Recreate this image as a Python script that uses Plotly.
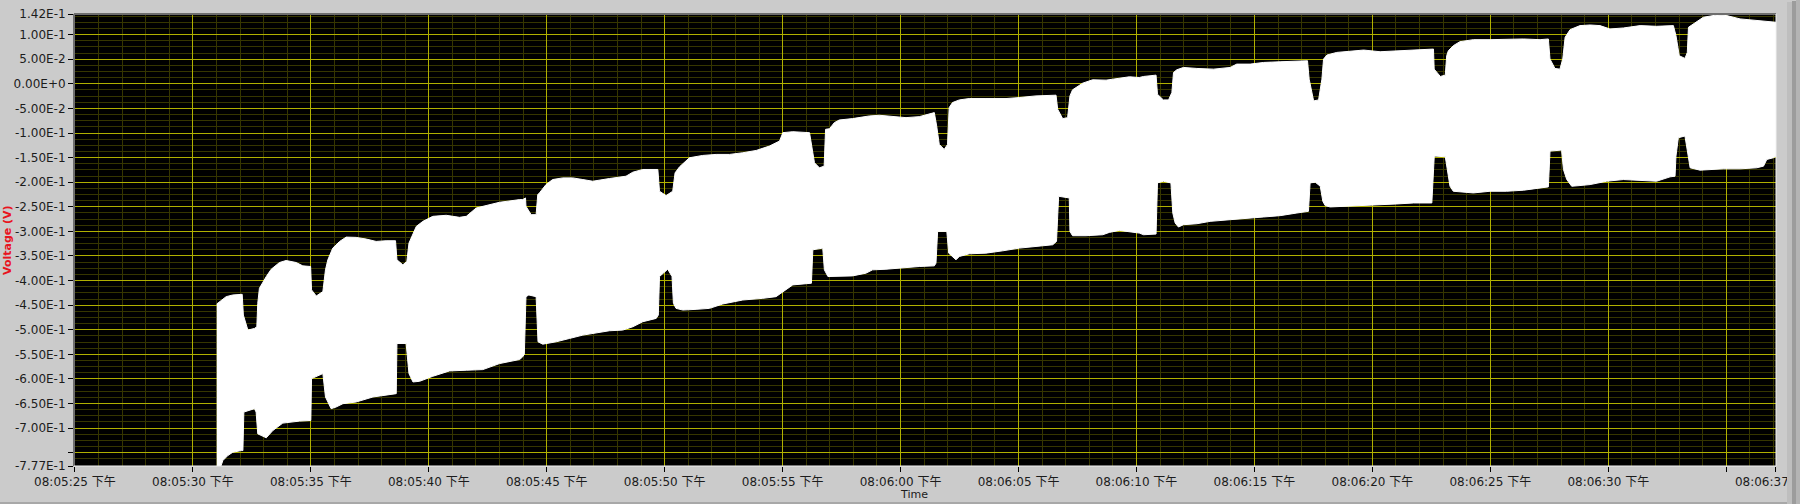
import math
import plotly.graph_objects as go

# Time axis: seconds after 08:05:00 (PM). Voltage in volts.
# Upper (max) envelope of the noisy voltage signal: (seconds, volts)
upper_envelope = [
    (31.01, -0.4476), (31.13, -0.4429), (31.41, -0.4327), (31.69, -0.4293), (32.09, -0.4279),
    (32.14, -0.4701), (32.33, -0.5007), (32.61, -0.4973), (32.71, -0.4939), (32.75, -0.4463),
    (32.82, -0.4156), (33.11, -0.3918), (33.32, -0.3769), (33.67, -0.3633), (33.95, -0.3592),
    (34.38, -0.3633), (34.66, -0.3701), (34.99, -0.3714), (35.03, -0.4190), (35.23, -0.4313),
    (35.51, -0.4224), (35.62, -0.3782), (35.72, -0.3578), (35.93, -0.3340), (36.22, -0.3204),
    (36.50, -0.3116), (36.92, -0.3122), (37.35, -0.3156), (37.77, -0.3204), (38.19, -0.3190),
    (38.59, -0.3190), (38.65, -0.3578), (38.90, -0.3680), (39.07, -0.3612), (39.16, -0.3238),
    (39.47, -0.2898), (39.75, -0.2796), (40.17, -0.2694), (40.74, -0.2673), (41.30, -0.2714),
    (41.59, -0.2694), (42.01, -0.2524), (42.58, -0.2456), (43.00, -0.2408), (43.85, -0.2354),
    (43.98, -0.2354), (44.10, -0.2320), (44.12, -0.2490), (44.34, -0.2660), (44.55, -0.2660),
    (44.62, -0.2252), (44.69, -0.2218), (44.97, -0.2048), (45.25, -0.1946), (45.68, -0.1912),
    (46.10, -0.1912), (46.53, -0.1946), (46.95, -0.1980), (47.66, -0.1925), (48.36, -0.1878),
    (48.65, -0.1796), (49.07, -0.1741), (49.71, -0.1741), (49.78, -0.2184), (50.06, -0.2272),
    (50.34, -0.2184), (50.44, -0.1810), (50.63, -0.1687), (51.05, -0.1503), (51.61, -0.1456),
    (52.18, -0.1435), (52.75, -0.1435), (53.31, -0.1401), (53.88, -0.1354), (54.44, -0.1265),
    (54.87, -0.1163), (55.01, -0.0993), (55.43, -0.0973), (56.14, -0.0993), (56.21, -0.1197),
    (56.35, -0.1605), (56.56, -0.1707), (56.76, -0.1673), (56.82, -0.0925), (56.99, -0.0912),
    (57.19, -0.0789), (57.40, -0.0735), (57.96, -0.0707), (58.67, -0.0653), (59.10, -0.0639),
    (59.66, -0.0667), (60.23, -0.0687), (60.79, -0.0667), (61.43, -0.0585), (61.53, -0.0857),
    (61.64, -0.1231), (61.85, -0.1333), (61.99, -0.1231), (62.06, -0.0483), (62.20, -0.0381),
    (62.49, -0.0327), (62.91, -0.0299), (63.62, -0.0299), (64.47, -0.0299), (65.03, -0.0279),
    (65.74, -0.0245), (66.59, -0.0231), (66.66, -0.0517), (66.87, -0.0707), (67.08, -0.0687),
    (67.18, -0.0245), (67.29, -0.0122), (67.72, 0.0014), (68.14, 0.0082), (68.71, 0.0075),
    (69.27, 0.0109), (69.70, 0.0143), (70.12, 0.0129), (70.30, 0.0150), (70.83, 0.0177),
    (70.89, -0.0211), (71.14, -0.0327), (71.36, -0.0327), (71.50, -0.0177), (71.57, 0.0231),
    (71.71, 0.0286), (71.99, 0.0333), (72.56, 0.0313), (73.27, 0.0299), (73.97, 0.0333),
    (74.25, 0.0401), (74.82, 0.0401), (75.39, 0.0435), (76.09, 0.0449), (76.80, 0.0469),
    (77.25, 0.0469), (77.32, 0.0095), (77.51, -0.0347), (77.72, -0.0327), (77.86, 0.0095),
    (77.93, 0.0503), (78.07, 0.0585), (78.49, 0.0639), (79.63, 0.0687), (80.33, 0.0653),
    (81.04, 0.0673), (81.75, 0.0694), (82.59, 0.0707), (82.62, 0.0299), (82.88, 0.0150),
    (83.09, 0.0177), (83.15, 0.0571), (83.22, 0.0673), (83.43, 0.0776), (83.71, 0.0857),
    (84.28, 0.0898), (84.99, 0.0898), (85.69, 0.0912), (86.40, 0.0912), (87.11, 0.0898),
    (87.46, 0.0912), (87.53, 0.0503), (87.74, 0.0313), (87.95, 0.0299), (88.07, 0.0503),
    (88.17, 0.0946), (88.38, 0.1102), (88.80, 0.1184), (89.23, 0.1197), (89.65, 0.1184),
    (90.07, 0.1116), (90.64, 0.1136), (91.35, 0.1184), (92.05, 0.1170), (92.76, 0.1184),
    (92.87, 0.0980), (93.01, 0.0571), (93.25, 0.0517), (93.35, 0.0639), (93.40, 0.1150),
    (93.61, 0.1218), (94.03, 0.1354), (94.60, 0.1401), (95.02, 0.1388), (95.59, 0.1320),
    (96.29, 0.1286), (97.00, 0.1265), (97.11, 0.1252),
]

# Lower (min) envelope of the noisy voltage signal: (seconds, volts)
lower_envelope = [
    (31.01, -0.785), (31.13, -0.785), (31.27, -0.7660), (31.48, -0.7558), (31.69, -0.7490),
    (32.05, -0.7456), (32.12, -0.7456), (32.16, -0.6673), (32.61, -0.6605), (32.68, -0.6673),
    (32.75, -0.7116), (33.11, -0.7197), (33.39, -0.7048), (33.81, -0.6898), (34.52, -0.6857),
    (35.00, -0.6844), (35.03, -0.5993), (35.51, -0.5891), (35.62, -0.6367), (35.86, -0.6605),
    (36.07, -0.6571), (36.36, -0.6503), (36.92, -0.6469), (37.63, -0.6367), (38.19, -0.6333),
    (38.62, -0.6299), (38.65, -0.5279), (39.04, -0.5279), (39.16, -0.5891), (39.33, -0.6061),
    (39.61, -0.6048), (40.17, -0.5946), (40.88, -0.5837), (41.59, -0.5823), (42.29, -0.5810),
    (43.00, -0.5687), (43.85, -0.5605), (43.98, -0.5551), (44.05, -0.5497), (44.12, -0.4327),
    (44.24, -0.4293), (44.55, -0.4327), (44.63, -0.5245), (44.83, -0.5293), (45.40, -0.5245),
    (45.96, -0.5177), (46.53, -0.5109), (47.09, -0.5061), (47.66, -0.5020), (48.22, -0.5007),
    (48.65, -0.4939), (49.07, -0.4837), (49.64, -0.4769), (49.73, -0.4701), (49.78, -0.3918),
    (50.13, -0.3769), (50.31, -0.3918), (50.37, -0.4463), (50.48, -0.4565), (50.77, -0.4599),
    (51.33, -0.4585), (51.90, -0.4565), (52.46, -0.4476), (53.31, -0.4395), (54.16, -0.4361),
    (54.72, -0.4327), (55.01, -0.4224), (55.43, -0.4088), (56.22, -0.4054), (56.28, -0.3374),
    (56.70, -0.3340), (56.77, -0.3782), (56.92, -0.3918), (57.40, -0.3918), (57.96, -0.3905),
    (58.53, -0.3850), (58.81, -0.3782), (59.38, -0.3769), (60.08, -0.3748), (60.79, -0.3714),
    (61.43, -0.3701), (61.50, -0.3646), (61.57, -0.3000), (61.96, -0.3000), (62.04, -0.3442),
    (62.35, -0.3578), (62.49, -0.3510), (62.91, -0.3456), (63.62, -0.3442), (64.33, -0.3395),
    (65.03, -0.3340), (65.74, -0.3306), (66.45, -0.3272), (66.61, -0.3204), (66.70, -0.2286),
    (67.15, -0.2320), (67.18, -0.3000), (67.29, -0.3088), (67.86, -0.3088), (68.57, -0.3068),
    (68.85, -0.3020), (69.27, -0.2980), (70.12, -0.3034), (70.30, -0.3068), (70.83, -0.3054),
    (70.89, -0.2014), (71.14, -0.1980), (71.46, -0.2014), (71.54, -0.2626), (71.64, -0.2830),
    (71.78, -0.2912), (71.99, -0.2864), (72.56, -0.2844), (73.12, -0.2796), (73.97, -0.2762),
    (74.68, -0.2741), (75.39, -0.2707), (76.09, -0.2680), (76.80, -0.2626), (77.29, -0.2592),
    (77.36, -0.2014), (77.58, -0.2000), (77.79, -0.2082), (77.90, -0.2388), (78.00, -0.2476),
    (78.21, -0.2503), (78.92, -0.2476), (80.33, -0.2456), (81.04, -0.2442), (81.75, -0.2422),
    (82.52, -0.2422), (82.62, -0.1500), (82.66, -0.1469), (83.09, -0.1483), (83.18, -0.1741),
    (83.29, -0.2082), (83.43, -0.2184), (84.28, -0.2218), (84.99, -0.2184), (85.69, -0.2184),
    (86.40, -0.2163), (87.11, -0.2116), (87.46, -0.2095), (87.53, -0.1367), (88.02, -0.1347),
    (88.10, -0.1741), (88.24, -0.1946), (88.45, -0.2082), (88.80, -0.2068), (89.23, -0.2048),
    (89.93, -0.1980), (90.64, -0.1946), (91.35, -0.1966), (92.05, -0.1980), (92.62, -0.1891),
    (92.83, -0.1878), (92.87, -0.1469), (92.97, -0.1095), (93.25, -0.1061), (93.40, -0.1469),
    (93.47, -0.1707), (93.89, -0.1755), (94.17, -0.1741), (94.88, -0.1728), (95.59, -0.1728),
    (96.29, -0.1707), (96.58, -0.1673), (96.72, -0.1537), (97.00, -0.1503), (97.11, -0.1469),
]

x_tick_seconds = [25, 30, 35, 40, 45, 50, 55, 60, 65, 70, 75, 80, 85, 90, 95, 97.1]
x_tick_labels = [
    "08:05:25 下午", "08:05:30 下午", "08:05:35 下午", "08:05:40 下午", "08:05:45 下午",
    "08:05:50 下午", "08:05:55 下午", "08:06:00 下午", "08:06:05 下午", "08:06:10 下午",
    "08:06:15 下午", "08:06:20 下午", "08:06:25 下午", "08:06:30 下午", "", "08:06:37 下午",
]
y_tick_values = [0.142, 0.10, 0.05, 0.0, -0.05, -0.10, -0.15, -0.20, -0.25, -0.30, -0.35,
                 -0.40, -0.45, -0.50, -0.55, -0.60, -0.65, -0.70, -0.75, -0.777]
y_hidden_labels = [-0.75]

X_RANGE = [24.96, 97.11]
Y_RANGE = [-0.777, 0.142]


def lv_format(v):
    if abs(v) < 1e-12:
        return "0.00E+0"
    e = math.floor(math.log10(abs(v)) + 1e-9)
    m = v / 10 ** e
    return f"{m:.2f}E{e:+d}"


y_tick_text = ["" if v in y_hidden_labels else lv_format(v) for v in y_tick_values]

xs = [p[0] for p in upper_envelope] + [p[0] for p in reversed(lower_envelope)]
ys = [p[1] for p in upper_envelope] + [p[1] for p in reversed(lower_envelope)]

MAJOR = "#B0B000"
MINOR = "#363600"
BG = "#CBCBCB"
TXT = "#1c1c1c"

fig = go.Figure()
fig.add_trace(go.Scatter(
    x=xs, y=ys, mode="lines", fill="toself", fillcolor="#FFFFFF",
    line=dict(color="#FFFFFF", width=1), hoverinfo="skip", showlegend=False,
))

font_main = "DejaVu Sans, Noto Sans CJK SC, sans-serif"

fig.update_layout(
    width=1800, height=504,
    margin=dict(l=74, r=24, t=14, b=38, autoexpand=False),
    paper_bgcolor=BG, plot_bgcolor="#000000",
    font=dict(family=font_main, size=12, color=TXT),
    showlegend=False,
)

fig.update_xaxes(
    range=X_RANGE, tickmode="array", tickvals=x_tick_seconds, ticktext=x_tick_labels,
    showgrid=True, gridcolor=MAJOR, gridwidth=1, zeroline=False,
    ticks="outside", ticklen=5, tickcolor="#000000", tickwidth=1,
    tickfont=dict(family="DejaVu Sans, Noto Sans CJK SC", size=12, color=TXT),
    ticklabeloverflow="allow",
    minor=dict(tickmode="linear", tick0=25, dtick=1, showgrid=True, gridcolor=MINOR,
               gridwidth=1, ticks=""),
    showline=False, automargin=False, fixedrange=True,
)
fig.update_yaxes(
    range=Y_RANGE, tickmode="array", tickvals=y_tick_values, ticktext=y_tick_text,
    showgrid=True, gridcolor=MAJOR, gridwidth=1, zeroline=False,
    ticks="outside", ticklen=5, tickcolor="#000000", tickwidth=1,
    tickfont=dict(family="DejaVu Sans", size=12, color=TXT),
    ticklabeloverflow="allow",
    minor=dict(tickmode="linear", tick0=0, dtick=0.0125, showgrid=True, gridcolor=MINOR,
               gridwidth=1, ticks=""),
    showline=False, automargin=False, fixedrange=True,
)

# sunken border of the plot area
fig.add_shape(type="line", xref="paper", yref="paper", x0=0, x1=1, y0=1, y1=1,
              line=dict(color="#6E6E6E", width=2), layer="above")
fig.add_shape(type="line", xref="paper", yref="paper", x0=0, x1=0, y0=0, y1=1,
              line=dict(color="#6E6E6E", width=2), layer="above")
fig.add_shape(type="line", xref="paper", yref="paper", x0=0, x1=1, y0=0, y1=0,
              line=dict(color="#F2F2F2", width=1), layer="above")
fig.add_shape(type="line", xref="paper", yref="paper", x0=1, x1=1, y0=0, y1=1,
              line=dict(color="#F2F2F2", width=1), layer="above")

# window frame at right and bottom
W = 1702.0
H = 452.0
def px_x(p):
    return (p - 74) / W
def px_y(p):
    return (466 - p) / H

fig.add_shape(type="rect", xref="paper", yref="paper", x0=px_x(1787), x1=px_x(1792),
              y0=px_y(504), y1=px_y(2), fillcolor="#BEBEBE", line=dict(width=0), layer="above")
fig.add_shape(type="rect", xref="paper", yref="paper", x0=px_x(1792), x1=px_x(1796),
              y0=px_y(504), y1=px_y(1), fillcolor="#9C9C9C", line=dict(width=0), layer="above")
fig.add_shape(type="rect", xref="paper", yref="paper", x0=px_x(1796), x1=px_x(1800),
              y0=px_y(504), y1=px_y(0), fillcolor="#B4B4B4", line=dict(width=0), layer="above")
fig.add_shape(type="rect", xref="paper", yref="paper", x0=px_x(0), x1=px_x(1787),
              y0=px_y(504), y1=px_y(502), fillcolor="#A8A8A8", line=dict(width=0), layer="above")

fig.add_annotation(text="<b>Voltage (V)</b>", xref="paper", yref="paper",
                   x=px_x(7), y=0.5, textangle=-90, showarrow=False,
                   xanchor="center", yanchor="middle",
                   font=dict(family="DejaVu Sans", size=11, color="#E8141E"))
fig.add_annotation(text="Time", xref="paper", yref="paper",
                   x=px_x(914), y=px_y(495), showarrow=False,
                   xanchor="center", yanchor="middle",
                   font=dict(family="DejaVu Sans", size=11, color=TXT))

fig.write_html(
    "out.html",
    config={"displayModeBar": False},
    post_script="document.body.style.margin='0';document.body.style.overflow='hidden';",
)
